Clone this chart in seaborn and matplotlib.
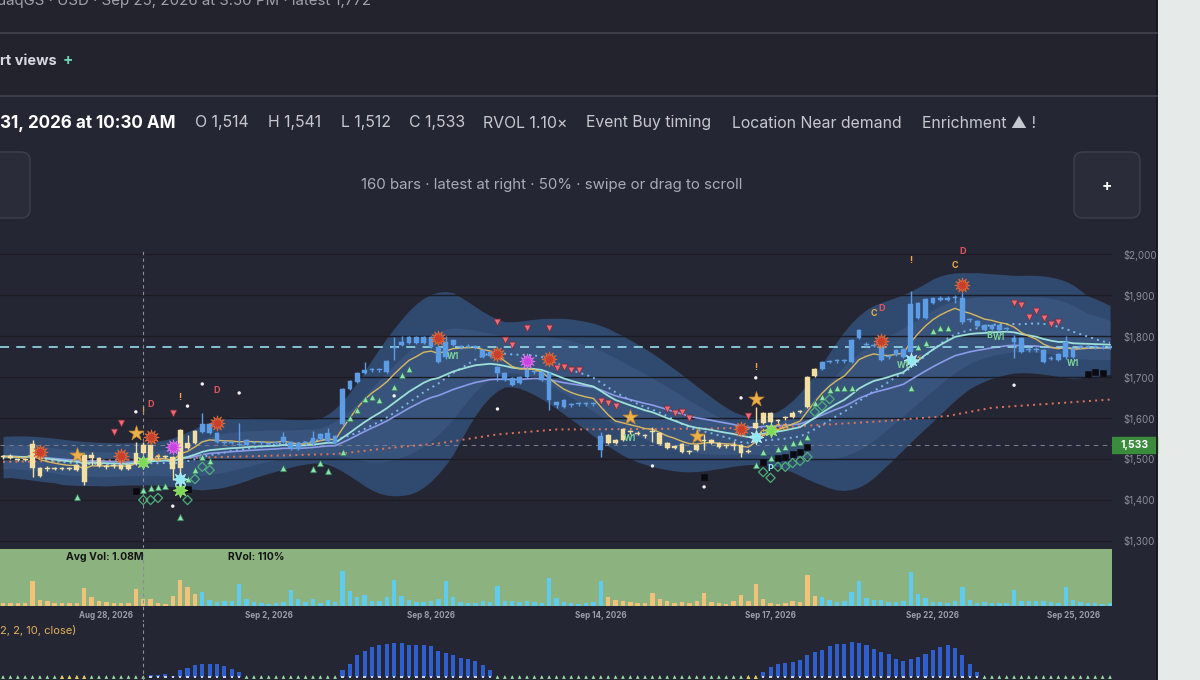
import matplotlib
matplotlib.use("Agg")
import matplotlib.pyplot as plt
from matplotlib.patches import FancyBboxPatch, Rectangle
import pandas as pd
import seaborn as sns

# ---- candles: the 151 visible bars, oldest first ----
opens = [1504, 1503, 1499, 1497, 1478, 1478, 1477, 1475, 1477, 1475,
         1473, 1510, 1502, 1502, 1480, 1482, 1476, 1485, 1488, 1514,
         1534, 1504, 1504, 1505, 1478, 1527, 1539, 1566, 1585, 1563,
         1540, 1539, 1533, 1534, 1539, 1538, 1536, 1538, 1541, 1541,
         1539, 1538, 1537, 1549, 1544, 1556, 1585, 1671, 1688, 1710,
         1716, 1716, 1712, 1770, 1778, 1783, 1797, 1783, 1797, 1773,
         1749, 1778, 1772, 1774, 1772, 1766, 1762, 1724, 1710, 1698,
         1685, 1700, 1711, 1712, 1710, 1639, 1644, 1631, 1633, 1633,
         1633, 1522, 1558, 1546, 1546, 1565, 1562, 1555, 1565, 1563,
         1539, 1528, 1536, 1516, 1522, 1545, 1539, 1539, 1531, 1531,
         1534, 1518, 1576, 1588, 1612, 1592, 1599, 1602, 1614, 1627,
         1702, 1719, 1736, 1738, 1738, 1737, 1795, 1777, 1775, 1771,
         1748, 1754, 1749, 1761, 1844, 1844, 1880, 1889, 1889, 1892,
         1893, 1838, 1837, 1827, 1817, 1827, 1816, 1785, 1795, 1767,
         1765, 1766, 1745, 1741, 1749, 1768, 1772, 1773, 1772, 1771, 1773]
closes = [1506, 1507, 1497, 1499, 1537, 1458, 1475, 1477, 1475, 1477,
          1485, 1444, 1510, 1483, 1482, 1484, 1485, 1476, 1515, 1533,
          1498, 1506, 1506, 1476, 1571, 1539, 1568, 1585, 1563, 1541,
          1542, 1541, 1535, 1546, 1541, 1540, 1538, 1540, 1553, 1527,
          1524, 1540, 1551, 1561, 1563, 1539, 1671, 1690, 1710, 1717,
          1718, 1718, 1739, 1772, 1785, 1797, 1783, 1797, 1773, 1737,
          1785, 1790, 1774, 1776, 1774, 1749, 1751, 1710, 1693, 1681,
          1700, 1717, 1713, 1693, 1644, 1632, 1627, 1633, 1635, 1635,
          1635, 1556, 1539, 1539, 1573, 1567, 1564, 1557, 1567, 1536,
          1527, 1530, 1517, 1518, 1534, 1547, 1546, 1529, 1533, 1533,
          1515, 1520, 1588, 1612, 1590, 1594, 1601, 1612, 1616, 1700,
          1719, 1737, 1738, 1740, 1740, 1790, 1815, 1779, 1777, 1741,
          1750, 1766, 1768, 1878, 1880, 1890, 1893, 1891, 1891, 1894,
          1834, 1840, 1824, 1815, 1827, 1815, 1818, 1795, 1761, 1769,
          1767, 1737, 1747, 1756, 1785, 1749, 1774, 1775, 1774, 1773, 1772]
highs = [1510, 1511, 1503, 1503, 1546, 1480, 1483, 1480, 1480, 1480,
         1488, 1512, 1517, 1504, 1488, 1488, 1487, 1487, 1541, 1541,
         1536, 1510, 1509, 1507, 1573, 1558, 1570, 1612, 1587, 1565,
         1546, 1544, 1588, 1548, 1545, 1544, 1541, 1544, 1565, 1543,
         1541, 1544, 1568, 1563, 1576, 1558, 1673, 1692, 1712, 1737,
         1721, 1721, 1741, 1798, 1800, 1799, 1799, 1799, 1799, 1775,
         1800, 1792, 1778, 1780, 1778, 1768, 1764, 1727, 1712, 1700,
         1702, 1719, 1716, 1714, 1712, 1642, 1646, 1636, 1638, 1638,
         1638, 1566, 1560, 1548, 1575, 1571, 1568, 1561, 1578, 1565,
         1541, 1534, 1538, 1522, 1536, 1561, 1548, 1541, 1537, 1544,
         1536, 1524, 1627, 1614, 1614, 1598, 1605, 1617, 1620, 1702,
         1721, 1739, 1742, 1744, 1744, 1792, 1817, 1785, 1783, 1773,
         1755, 1768, 1770, 1910, 1882, 1892, 1895, 1897, 1897, 1900,
         1905, 1845, 1839, 1829, 1829, 1829, 1822, 1802, 1797, 1773,
         1773, 1768, 1751, 1758, 1800, 1770, 1778, 1779, 1778, 1777, 1776]
lows = [1500, 1500, 1494, 1494, 1456, 1455, 1470, 1472, 1472, 1472,
        1470, 1437, 1485, 1480, 1476, 1479, 1474, 1474, 1485, 1512,
        1495, 1501, 1502, 1449, 1449, 1525, 1537, 1564, 1560, 1539,
        1537, 1536, 1531, 1532, 1536, 1535, 1533, 1535, 1539, 1522,
        1522, 1535, 1535, 1547, 1541, 1537, 1583, 1669, 1686, 1708,
        1713, 1713, 1710, 1741, 1776, 1781, 1781, 1781, 1771, 1735,
        1744, 1776, 1769, 1771, 1769, 1747, 1749, 1690, 1691, 1679,
        1683, 1698, 1708, 1691, 1620, 1625, 1625, 1628, 1630, 1630,
        1630, 1505, 1537, 1537, 1544, 1562, 1559, 1552, 1541, 1534,
        1525, 1525, 1515, 1513, 1520, 1522, 1537, 1527, 1528, 1522,
        1505, 1515, 1574, 1586, 1588, 1589, 1596, 1600, 1611, 1625,
        1700, 1717, 1733, 1735, 1735, 1735, 1793, 1774, 1772, 1739,
        1745, 1752, 1747, 1759, 1842, 1842, 1878, 1885, 1885, 1880,
        1830, 1835, 1822, 1813, 1815, 1813, 1813, 1746, 1759, 1760,
        1760, 1735, 1742, 1739, 1744, 1747, 1769, 1770, 1769, 1768, 1769]
regime = ['pullback'] * 27 + ['trend'] * 55 + ['pullback'] * 29 + ['trend'] * 40

# volume in thousands of shares
volumes = [400, 400, 400, 500, 3750, 900, 700, 400, 400, 400,
           500, 2750, 1400, 800, 550, 400, 400, 500, 2550, 1050,
           1050, 500, 300, 1500, 3900, 2800, 1750, 2150, 900, 650,
           750, 750, 3300, 1050, 650, 400, 300, 400, 650, 2400,
           1000, 550, 1000, 400, 900, 550, 5250, 2250, 1400, 1650,
           750, 800, 1300, 3900, 1550, 900, 550, 550, 750, 1050,
           3750, 1400, 550, 500, 400, 800, 550, 3000, 800, 800,
           650, 750, 650, 400, 4300, 1150, 650, 400, 300, 400,
           550, 3750, 1300, 900, 750, 650, 400, 500, 1900, 1000,
           800, 500, 550, 500, 750, 2000, 550, 400, 300, 750,
           1650, 750, 3300, 1000, 500, 300, 400, 750, 650, 4750,
           1500, 1300, 900, 650, 800, 2150, 3750, 1250, 900, 900,
           550, 550, 750, 5150, 1750, 1150, 650, 650, 400, 750,
           2900, 900, 500, 550, 400, 400, 500, 2400, 750, 750,
           750, 800, 650, 500, 2900, 900, 650, 400, 400, 300, 400]

# squeeze momentum histogram (lower pane)
squeeze_hist = [0, 0, 0, 0, 0, 0, 0, 0, 0, 0,
                0, 0, 0, 0, 0, 0, 0, 0, 0, 0,
                5, 5, 10, 3, 20, 28, 35, 40, 40, 40,
                32, 25, 15, 0, 0, 0, 0, 0, 0, 0,
                0, 0, 0, 0, 0, 0, 20, 40, 65, 78,
                90, 95, 98, 103, 103, 97, 96, 96, 92, 78,
                73, 65, 58, 53, 48, 35, 20, 0, 0, 0,
                0, 0, 0, 0, 0, 0, 0, 0, 0, 0,
                0, 0, 0, 0, 0, 0, 0, 0, 0, 0,
                0, 0, 0, 0, 0, 0, 0, 0, 0, 0,
                0, 0, 0, 15, 30, 40, 42, 45, 50, 65,
                75, 82, 92, 100, 100, 105, 102, 95, 85, 75,
                68, 55, 48, 55, 60, 70, 82, 90, 95, 88,
                65, 40, 15, 0, 0, 0, 0, 0, 0, 0,
                0, 0, 0, 0, 0, 0, 0, 0, 0, 0, 0]
squeeze_fired = [8, 9, 10, 11, 101, 102]

date_ticks = [14, 36, 58, 81, 104, 126, 145]
date_labels = ['Aug 28, 2026', 'Sep 2, 2026', 'Sep 8, 2026', 'Sep 14, 2026',
               'Sep 17, 2026', 'Sep 22, 2026', 'Sep 25, 2026']
price_ticks = [1300, 1400, 1500, 1600, 1700, 1800, 1900, 2000]
price_labels = ['$1,300', '$1,400', '$1,500', '$1,600', '$1,700', '$1,800', '$1,900', '$2,000']

# long moving average
long_ma_i = [0, 15, 30, 45, 53, 59, 67, 75, 85, 95, 106, 119, 128, 134, 150]
long_ma_p = [1493, 1497, 1505, 1512, 1528, 1538, 1560, 1572, 1573, 1574, 1578, 1592, 1605, 1625, 1645]

crosshair_bar = 19
crosshair_price = 1533
latest_price = 1772

# signal markers (bar index, price)
red_burst_i = [5, 16, 20, 29, 59, 67, 74, 100, 119, 130]
red_burst_p = [1517, 1507, 1554, 1588, 1795, 1756, 1744, 1573, 1788, 1924]
magenta_i = [23, 71]
magenta_p = [1529, 1739]
star_i = [10, 18, 85, 94, 102]
star_p = [1510, 1563, 1602, 1556, 1646]
green_burst_i = [19, 24, 104]
green_burst_p = [1493, 1424, 1571]
cyan_burst_i = [24, 102, 123]
cyan_burst_p = [1451, 1554, 1741]
up_i = [10, 19, 20, 21, 22, 24, 25, 26, 27, 28,
        38, 42, 43, 44, 46, 47, 48, 49, 50, 51, 53, 54, 55,
        102, 103, 104, 105, 106, 107, 108, 109, 110, 111, 112, 113, 114, 115,
        123, 124, 125, 126, 127, 128]
up_p = [1407, 1424, 1429, 1432, 1434, 1359, 1451, 1473, 1505, 1495,
        1478, 1476, 1490, 1471, 1517, 1600, 1620, 1646, 1651, 1644, 1676, 1705, 1719,
        1485, 1517, 1502, 1524, 1529, 1539, 1541, 1554, 1637, 1651, 1668, 1673, 1673, 1673,
        1673, 1773, 1783, 1812, 1819, 1819]
down_i = [15, 16, 23, 67, 68, 69, 71, 74, 75, 76, 77, 78,
          81, 82, 83, 90, 91, 92, 93, 101, 137, 138, 139, 140, 141, 142, 143]
down_p = [1566, 1588, 1612, 1834, 1790, 1778, 1819, 1819, 1722, 1724, 1717, 1717,
          1641, 1637, 1629, 1622, 1612, 1615, 1600, 1605, 1880, 1876, 1846, 1861, 1844, 1829, 1834]
square_i = [18, 25, 95, 103, 105, 106, 107, 108, 109, 147, 148, 149]
square_p = [1422, 1427, 1456, 1493, 1502, 1505, 1512, 1517, 1529, 1707, 1712, 1710]
diamond_i = [19, 20, 21, 25, 26, 27, 28, 103, 104, 105, 106, 107, 108, 109, 110, 111, 112]
diamond_p = [1400, 1400, 1405, 1400, 1451, 1481, 1473, 1468, 1454, 1481, 1481, 1490,
             1495, 1505, 1615, 1629, 1646]
dot_i = [18, 25, 27, 23, 67, 88, 100, 102, 95, 137, 32, 53]
dot_p = [1615, 1629, 1683, 1385, 1622, 1483, 1649, 1698, 1432, 1680, 1661, 1654]
tag_i = [20, 29, 119, 130, 19, 24, 102, 123, 118, 129,
         61, 85, 122, 135, 145, 133.6, 104, 21, 103, 105, 106, 124]
tag_p = [1632, 1666, 1866, 2007, 1617, 1649, 1724, 1983, 1854, 1973,
         1751, 1549, 1729, 1797, 1732, 1801, 1478, 1500, 1561, 1577, 1577, 1746]
tag_txt = ['D', 'D', 'D', 'D', '!', '!', '!', '!', 'C', 'C',
           'W1', 'W1', 'W1', 'W1', 'W1', 'B', 'P', '↻', '↻', '↻', '↻', '⚡']
tag_kind = ['red', 'red', 'red', 'red', 'tan', 'orange', 'orange', 'orange', 'orange', 'orange',
            'green', 'green', 'green', 'green', 'green', 'green', 'cyan',
            'orange', 'orange', 'orange', 'orange', 'orange']

# ---- derived indicators ----
df = pd.DataFrame({'open': opens, 'high': highs, 'low': lows, 'close': closes,
                   'volume': volumes, 'regime': regime, 'hist': squeeze_hist})
df['bar'] = df.index
df['ema_fast'] = df['close'].ewm(span=8, adjust=False).mean()
df['ema_mid'] = df['close'].ewm(span=21, adjust=False).mean()
df['ema_slow'] = df['close'].ewm(span=34, adjust=False).mean()
df['sma20'] = df['close'].rolling(20, min_periods=1).mean()
sd = df['close'].rolling(20, min_periods=2).std().bfill().clip(lower=22)


def smooth(s):
    return s.rolling(7, center=True, min_periods=1).mean()


outer_hi = smooth(df['sma20'] + 2.3 * sd)
outer_lo = smooth(df['sma20'] - 2.3 * sd)
inner_hi = smooth(df['sma20'] + 1.3 * sd)
inner_lo = smooth(df['sma20'] - 1.3 * sd)

sns.set_theme(style="dark")
plt.rcParams['font.family'] = ['Inter', 'DejaVu Sans']

BG = '#252633'
TOP_BG = '#22232d'
candle_pal = {'pullback': '#f3dfa2', 'trend': '#5d9de6'}
vol_pal = {'pullback': '#f2c27b', 'trend': '#5fcbee'}
tag_pal = {'red': '#e2545a', 'orange': '#f0a848', 'tan': '#c9a066',
           'green': '#7ed39a', 'cyan': '#8fe3f0'}

W, H = 1200, 680
fig = plt.figure(figsize=(12, 6.8), dpi=100)
fig.patch.set_facecolor(BG)


def box(x0, y0, x1, y1):
    return [x0 / W, 1 - y1 / H, (x1 - x0) / W, (y1 - y0) / H]


# UI layer in pixel coordinates (behind the chart panes)
ui = fig.add_axes([0, 0, 1, 1], zorder=-1)
ui.set_xlim(0, W)
ui.set_ylim(H, 0)
ui.axis('off')
ui.add_patch(Rectangle((0, 0), 1158, 96, color=TOP_BG, zorder=0))
ui.add_patch(Rectangle((1158, 0), 42, H, color='#e6eae9', zorder=0))
ui.plot([1157, 1157], [0, H], color='#15161c', lw=1.2)
ui.plot([0, 1157], [33, 33], color='#3b3d48', lw=1.5)
ui.plot([0, 1157], [96, 96], color='#3b3d48', lw=1.5)
ui.text(-3, 5, 'daqGS · USD · Sep 25, 2026 at 3:50 PM · latest 1,772', color='#9fa2ae',
        fontsize=10.8, va='baseline', ha='left')
ui.text(0, 61, 'rt views', color='#d6d8df', fontsize=10.5, fontweight='bold', va='center')
ui.text(63, 61, '+', color='#6fd3b0', fontsize=11, fontweight='bold', va='center')
ui.text(0, 123, '31, 2026 at 10:30 AM', color='#ffffff', fontsize=12.3, fontweight='bold', va='center')
for xp, s in [(195, 'O 1,514'), (268, 'H 1,541'), (341, 'L 1,512'), (409, 'C 1,533'),
              (483, 'RVOL 1.10×'), (586, 'Event Buy timing'), (732, 'Location Near demand'),
              (922, 'Enrichment ▲ !')]:
    ui.text(xp, 123, s, color='#c6c8d0', fontsize=11.4, va='center')
ui.text(552, 185, '160 bars · latest at right · 50% · swipe or drag to scroll', color='#a9acb8',
        fontsize=10.8, ha='center', va='center')
for bx in (-20, 1074):
    ui.add_patch(FancyBboxPatch((bx, 152), 66 if bx > 0 else 50, 66,
                                boxstyle='round,pad=0,rounding_size=9',
                                facecolor='#2a2c39', edgecolor='#3e404d', lw=1))
ui.text(1107, 186, '+', color='white', fontsize=11, fontweight='bold', ha='center', va='center')
ui.add_patch(Rectangle((1112, 437), 45, 16, color='#3a8c3c'))
ui.text(1134.5, 445.5, '1,533', color='white', fontsize=7.5, fontweight='bold', ha='center', va='center')

# ---- price pane ----
ax = fig.add_axes(box(0, 250, 1112, 548))
ax.set_facecolor(BG)
ax.fill_between(df['bar'], outer_lo, outer_hi, color='#33507a', alpha=0.85, lw=0, zorder=1)
ax.fill_between(df['bar'], inner_lo, inner_hi, color='#40608c', alpha=0.5, lw=0, zorder=1.1)
for p in price_ticks:
    ax.axhline(p, color='#1b1c24', lw=1, zorder=1.5)
ax.axhline(crosshair_price, color='#767a8a', lw=0.8, ls=(0, (4, 4)), zorder=2)
ax.axvline(crosshair_bar, color='#8a8d99', lw=0.8, ls=(0, (3, 3)), zorder=2)

sns.lineplot(x=long_ma_i, y=long_ma_p, ax=ax, color='#e0735a', lw=1.4,
             linestyle=(0, (1, 2.2)), zorder=2.5)
sns.lineplot(x=df['bar'], y=df['sma20'], ax=ax, color='#7fb6e8', lw=1.4,
             linestyle=(0, (1, 2.2)), zorder=2.6)
sns.lineplot(x=df['bar'], y=df['ema_slow'], ax=ax, color='#8c9be8', lw=1.2, zorder=2.7)
sns.lineplot(x=df['bar'], y=df['ema_mid'], ax=ax, color='#9de0d8', lw=1.3, zorder=2.8)
sns.lineplot(x=df['bar'], y=df['ema_fast'], ax=ax, color='#d9b860', lw=1.0, zorder=2.9)
ax.axhline(latest_price, color='#8ecfe0', lw=1.3, ls=(0, (5, 4)), zorder=3)

ccol = df['regime'].map(candle_pal)
ax.vlines(df['bar'], df['low'], df['high'], colors=ccol, lw=1, zorder=4)
body_lo = df[['open', 'close']].min(axis=1)
body_h = (df['close'] - df['open']).abs().clip(lower=2.5)
ax.bar(df['bar'], body_h, bottom=body_lo, width=0.64, color=ccol, edgecolor=ccol,
       linewidth=0.3, zorder=5)


def marks(xs, ys, **kw):
    sns.scatterplot(x=xs, y=ys, ax=ax, legend=False, zorder=6, **kw)


marks(up_i, up_p, marker='^', s=22, color='#8be3b0', edgecolor='#2e6b4f', linewidth=0.5)
marks(down_i, down_p, marker='v', s=24, color='#f06a7a', edgecolor='#7a2a33', linewidth=0.5)
marks(square_i, square_p, marker='s', s=24, color='#0a0a10', edgecolor='#0a0a10')
marks(diamond_i, diamond_p, marker='D', s=22, facecolor='none', edgecolor='#4fae7a', linewidth=0.9)
marks(dot_i, dot_p, marker='o', s=6, color='#f2f2f2', edgecolor='none')
marks(red_burst_i, red_burst_p, marker=(12, 1, 0), s=120, color='#c8402c', edgecolor='#e06a3a', linewidth=0.6)
marks(magenta_i, magenta_p, marker=(12, 1, 0), s=120, color='#cc44e0', edgecolor='#e070f0', linewidth=0.6)
marks(star_i, star_p, marker='*', s=130, color='#eeb04a', edgecolor='#c98a2a', linewidth=0.5)
marks(green_burst_i, green_burst_p, marker=(8, 1, 0), s=110, color='#7ed957', edgecolor='#a6f07a', linewidth=0.5)
marks(cyan_burst_i, cyan_burst_p, marker=(8, 1, 0), s=110, color='#8fe8f2', edgecolor='#c4f6fa', linewidth=0.5)
for xi, pv, t, k in zip(tag_i, tag_p, tag_txt, tag_kind):
    ax.text(xi, pv, t, color=tag_pal[k], fontsize=6.5 if len(t) == 1 else 6,
            fontweight='bold', ha='center', va='center', zorder=7)

ax.set_xlim(-0.41, 150.27)
ax.set_ylim(1282.9, 2009.8)
ax.set_yticks(price_ticks, labels=price_labels)
ax.yaxis.tick_right()
ax.tick_params(axis='y', length=0, pad=8, labelsize=7, labelcolor='#8b8e9a')
ax.set_xticks([])
ax.set(xlabel='', ylabel='')
for sp in ax.spines.values():
    sp.set_visible(False)

# ---- volume pane ----
axv = fig.add_axes(box(0, 549, 1112, 606))
axv.set_facecolor('#8cb27f')
sns.barplot(data=df, x='bar', y='volume', hue='regime', palette=vol_pal, native_scale=True,
            dodge=False, width=0.6, saturation=1, legend=False, ax=axv, linewidth=0)
axv.axvline(crosshair_bar, ymin=-0.3, ymax=1, color='#8a8d99', lw=0.8, ls=(0, (3, 3)), clip_on=False)
axv.text(66 / 1112, 0.86, 'Avg Vol: 1.08M', transform=axv.transAxes, fontsize=7.5,
         fontweight='bold', color='#141414', va='center')
axv.text(228 / 1112, 0.86, 'RVol: 110%', transform=axv.transAxes, fontsize=7.5,
         fontweight='bold', color='#141414', va='center')
axv.set_xlim(-0.41, 150.27)
axv.set_ylim(0, 8600)
axv.set_yticks([])
axv.set_xticks(date_ticks, labels=date_labels)
axv.tick_params(axis='x', length=0, pad=3.5, labelsize=5.8, labelcolor='#9a9daa')
for lab in axv.get_xticklabels():
    lab.set_fontweight('bold')
axv.set(xlabel='', ylabel='')
for sp in axv.spines.values():
    sp.set_visible(False)

# ---- squeeze pane ----
axb = fig.add_axes(box(0, 622, 1112, 680))
axb.set_facecolor(BG)
pos = df[df['hist'] > 0]
sns.barplot(x=pos['bar'], y=pos['hist'], color='#2f5fcf', native_scale=True, width=0.55,
            saturation=1, ax=axb, linewidth=0)
axb.axvline(crosshair_bar, color='#8a8d99', lw=0.8, ls=(0, (3, 3)))
zero = df[df['hist'] == 0]
sns.scatterplot(x=zero['bar'], y=zero['hist'], ax=axb, marker='^', s=7, color='#9be3a6',
                edgecolor='none', legend=False, clip_on=False)
sns.scatterplot(x=pos['bar'], y=pos['hist'] * 0, ax=axb, marker='s', s=3, color='#c8d0e2',
                edgecolor='none', legend=False, clip_on=False)
sns.scatterplot(x=squeeze_fired, y=[0] * len(squeeze_fired), ax=axb, marker='^', s=8,
                color='#e8c85a', edgecolor='none', legend=False, clip_on=False)
axb.text(0, 0.845, '2, 2, 10, close)', transform=axb.transAxes, fontsize=8,
         color='#e2b25a', va='center', ha='left')
axb.set_xlim(-0.41, 150.27)
axb.set_ylim(-9, 165)
axb.set_xticks([])
axb.set_yticks([])
axb.set(xlabel='', ylabel='')
for sp in axb.spines.values():
    sp.set_visible(False)

fig.savefig('out.png', dpi=100, facecolor=fig.get_facecolor())
